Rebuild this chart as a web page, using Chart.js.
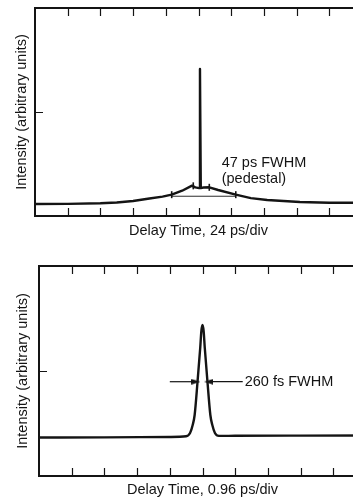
<!DOCTYPE html>
<html><head><meta charset="utf-8">
<script src="https://cdn.jsdelivr.net/npm/chart.js@4.4.1/dist/chart.umd.min.js"></script>
<style>
html,body{margin:0;padding:0;background:#fff;overflow:hidden;}
#wrap{position:relative;width:353px;height:499px;overflow:hidden;background:#fff;}
#c1{position:absolute;left:0;top:0;width:380px;height:245px;}
#c2{position:absolute;left:0;top:250px;width:380px;height:249px;}
</style></head><body>
<div id="wrap"><canvas id="c1" width="380" height="245"></canvas><canvas id="c2" width="380" height="249"></canvas></div>
<script>
// ---------- data ----------
const yTitle = 'Intensity (arbitrary units)';
const xTitleTop = 'Delay Time, 24 ps/div';
const xTitleBottom = 'Delay Time, 0.96 ps/div';

// top panel: autocorrelation with pedestal (x in divisions, intensity arbitrary)
const topDelay     = [0, 1, 2, 2.5, 3, 3.5, 3.9, 4.18, 4.5, 4.8, 4.9, 5.02, 5.045, 5.07, 5.15, 5.33, 5.6, 6.14, 6.6, 7.1, 7.6, 8.1, 9, 10];
const topIntensity = [0.115, 0.117, 0.122, 0.13, 0.144, 0.168, 0.186, 0.205, 0.243, 0.292, 0.275, 0.268, 1.413, 0.268, 0.274, 0.276, 0.25, 0.205, 0.172, 0.154, 0.144, 0.135, 0.128, 0.128];
const topMarkDelay     = [4.18, 4.84, 5.33, 6.14];
const topMarkIntensity = [0.205, 0.29, 0.276, 0.205];
const topHalfDelay     = [4.18, 6.14];
const topHalfIntensity = [0.19, 0.19];
const topNote = ['47 ps FWHM', '(pedestal)'];

// bottom panel: main pulse
const botDelay     = [0, 2, 4, 4.5, 4.62, 4.70, 4.76, 4.85, 4.93, 4.965, 5.0, 5.035, 5.07, 5.15, 5.24, 5.30, 5.38, 5.5, 6, 8, 10];
const botIntensity = [0.366, 0.368, 0.372, 0.378, 0.41, 0.486, 0.581, 0.905, 1.219, 1.38, 1.438, 1.38, 1.219, 0.905, 0.581, 0.486, 0.41, 0.382, 0.383, 0.385, 0.386];
const arrowLeftDelay  = [4.0, 4.8];
const arrowRightDelay = [6.23, 5.18];
const arrowIntensity  = [0.898, 0.898];
const botNote = ['260 fs FWHM'];

// ---------- helpers ----------
const FONT = '"Liberation Sans", Arial, Helvetica, sans-serif';
const INK = '#141414';
Chart.defaults.font.family = FONT;
Chart.defaults.color = INK;

function arrowHead(dir) {
  const c = document.createElement('canvas');
  c.width = 9; c.height = 6;
  const g = c.getContext('2d');
  g.fillStyle = INK;
  g.beginPath();
  if (dir > 0) { g.moveTo(9, 3); g.lineTo(0, 0.3); g.lineTo(0, 5.7); }
  else { g.moveTo(0, 3); g.lineTo(9, 0.3); g.lineTo(9, 5.7); }
  g.closePath(); g.fill();
  return c;
}
const headRight = arrowHead(1), headLeft = arrowHead(-1);

const framePlugin = {
  id: 'frame',
  afterDatasetsDraw(chart, args, opts) {
    const {ctx, chartArea: a, scales: {x, y}} = chart;
    ctx.save();
    ctx.strokeStyle = INK;
    ctx.lineWidth = 2;
    ctx.beginPath();
    ctx.moveTo(a.right, a.top); ctx.lineTo(a.left, a.top);
    ctx.lineTo(a.left, a.bottom); ctx.lineTo(a.right, a.bottom); ctx.lineTo(a.right, a.top);
    ctx.stroke();
    ctx.lineWidth = 1.2;
    const L = 8;
    ctx.beginPath();
    x.ticks.forEach(t => {
      if (t.value <= x.min || t.value >= x.max) return;
      const px = Math.round(x.getPixelForValue(t.value)) + 0.5;
      ctx.moveTo(px, a.bottom); ctx.lineTo(px, a.bottom - L);
      ctx.moveTo(px, a.top); ctx.lineTo(px, a.top + L);
    });
    y.ticks.forEach(t => {
      if (t.value <= y.min || t.value >= y.max) return;
      const py = Math.round(y.getPixelForValue(t.value)) + 0.5;
      ctx.moveTo(a.left, py); ctx.lineTo(a.left + L, py);
    });
    ctx.stroke();
    // text notes
    ctx.fillStyle = INK;
    ctx.font = '14.5px ' + FONT;
    ctx.textAlign = 'left';
    ctx.textBaseline = 'middle';
    (opts.notes || []).forEach(n => {
      ctx.fillText(n.text, x.getPixelForValue(n.x), y.getPixelForValue(n.y));
    });
    ctx.restore();
  }
};

function pts(xs, ys) { return xs.map((v, i) => ({x: v, y: ys[i]})); }

function makeChart(el, datasets, cfg) {
  return new Chart(el, {
    type: 'line',
    data: {datasets},
    plugins: [framePlugin],
    options: {
      responsive: false,
      animation: false,
      events: [],
      layout: {padding: cfg.padding},
      plugins: {legend: {display: false}, tooltip: {enabled: false}, frame: {notes: cfg.notes}},
      scales: {
        x: {
          type: 'linear', min: 0, max: 10,
          ticks: {display: false, stepSize: 1},
          grid: {display: false}, border: {display: false},
          title: {display: true, text: cfg.xTitle, font: {size: 14.5}, color: INK, padding: {top: 0, bottom: cfg.xPad}},
          afterFit: s => { s.height = cfg.xHeight; }
        },
        y: {
          type: 'linear', min: 0, max: 2,
          ticks: {display: false, stepSize: 1},
          grid: {display: false}, border: {display: false},
          title: {display: true, text: yTitle, font: {size: 14.5}, color: INK, padding: {top: cfg.yPad, bottom: 0}},
          afterFit: s => { s.width = cfg.yWidth; }
        }
      }
    }
  });
}

// ---------- top chart ----------
makeChart(document.getElementById('c1'), [
  {data: pts(topDelay, topIntensity), borderColor: INK, borderWidth: 2.4, pointRadius: 0, tension: 0, borderJoinStyle: 'round'},
  {data: pts(topHalfDelay, topHalfIntensity), borderColor: INK, borderWidth: 0.9, pointRadius: 0},
  {data: pts(topMarkDelay, topMarkIntensity), showLine: false, pointStyle: 'line', pointRotation: 90, pointRadius: 3.5, borderColor: INK, pointBorderWidth: 1.6}
], {
  padding: {top: 8, right: 18, left: 0, bottom: 0},
  xTitle: xTitleTop, xHeight: 29, xPad: 5.3, yWidth: 35, yPad: 13,
  notes: [{text: topNote[0], x: 5.71, y: 0.5125}, {text: topNote[1], x: 5.71, y: 0.36}]
});

// ---------- bottom chart ----------
makeChart(document.getElementById('c2'), [
  {data: pts(botDelay, botIntensity), borderColor: INK, borderWidth: 2.4, pointRadius: 0, cubicInterpolationMode: 'monotone'},
  {data: pts(arrowLeftDelay, arrowIntensity), borderColor: INK, borderWidth: 1.2, pointStyle: [false, headRight], pointRadius: [0, 5]},
  {data: pts(arrowRightDelay, arrowIntensity), borderColor: INK, borderWidth: 1.2, pointStyle: [false, headLeft], pointRadius: [0, 5]}
], {
  padding: {top: 16, right: 14, left: 0, bottom: 0},
  xTitle: xTitleBottom, xHeight: 23, xPad: 0.3, yWidth: 39, yPad: 13.8,
  notes: [{text: botNote[0], x: 6.29, y: 0.898}]
});
</script>
</body></html>
